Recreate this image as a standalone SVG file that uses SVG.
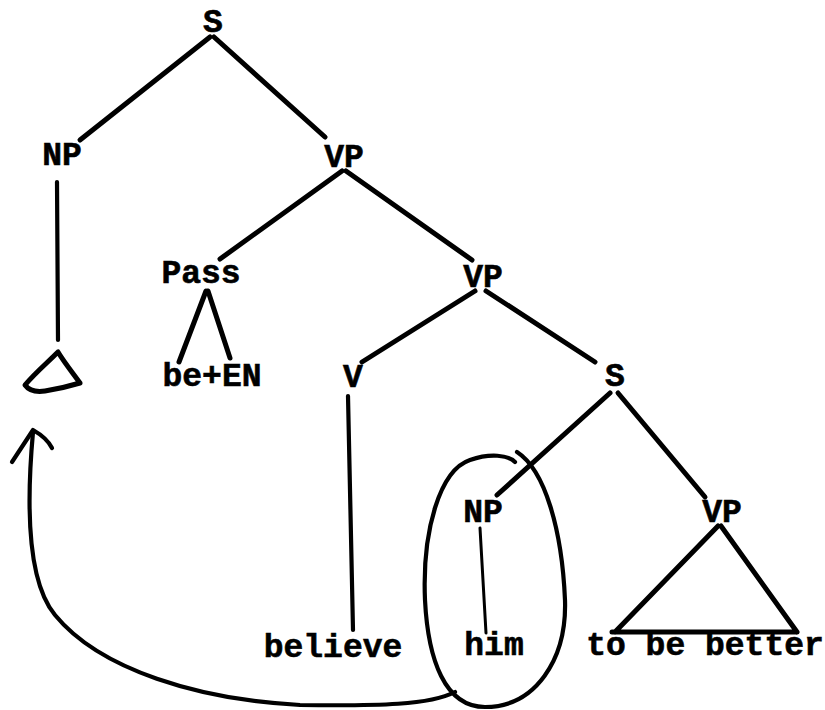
<svg xmlns="http://www.w3.org/2000/svg" width="825" height="710" viewBox="0 0 825 710">
<style>
  text { font-family: "Liberation Mono", "DejaVu Sans Mono", monospace; font-weight: bold; font-size: 33px; fill: #000; stroke: #000; stroke-width: 0.6; text-anchor: middle; }
  .e { fill: none; stroke: #000; stroke-width: 5; stroke-linecap: round; stroke-linejoin: round; }
  .thin { stroke-width: 3; }
  .mid { stroke-width: 4.2; }
</style>
<rect width="825" height="710" fill="#fff"/>
<g id="connectors">
  <path class="e" d="M210,37 L80,140"/>
  <path class="e" d="M214,37 L325,137"/>
  <path class="e mid" d="M57,182 L58,340"/>
  <path class="e" d="M342,171 L220,259"/>
  <path class="e" d="M346,171 L472,260"/>
  <path class="e" d="M206,291 L179,362"/>
  <path class="e" d="M208,291 L230,358"/>
  <path class="e" d="M475,291 L362,362"/>
  <path class="e" d="M486,291 L595,362"/>
  <path class="e mid" d="M348,396 L353,630"/>
  <path class="e" d="M610,393 L497,495"/>
  <path class="e" d="M618,393 L705,497"/>
  <path class="e thin" d="M480,528 L486,633"/>
</g>
<g id="node-S"><text x="213" y="32">S</text></g>
<g id="node-NP"><text x="62" y="165">NP</text></g>
<g id="node-NP-triangle"><path class="e" d="M58,352 C48,362 34,374 25,385 C30,392 38,392 45,391 C58,389 70,386 80,383 C72,372 64,362 58,352 Z"/></g>
<g id="node-VP"><text x="344" y="167">VP</text></g>
<g id="node-Pass"><text x="201" y="283">Pass</text></g>
<g id="node-beEN"><text x="212" y="386">be+EN</text></g>
<g id="node-VP2"><text x="483" y="287">VP</text></g>
<g id="node-V"><text x="353" y="387">V</text></g>
<g id="node-S2"><text x="615" y="386">S</text></g>
<g id="node-NP2"><text x="483" y="522">NP</text></g>
<g id="node-VP3"><text x="722" y="522">VP</text>
  <path class="e" d="M615,632 L718,526 M721,526 L797,632 M612,632 L797,632"/>
</g>
<g id="node-believe"><text x="333" y="657">believe</text></g>
<g id="node-him"><text x="494" y="655">him</text></g>
<g id="node-tobebetter"><text x="705" y="655">to be better</text></g>
<g id="circle">
  <path class="e mid" d="M517,452 C545,470 562,530 565,600 C567,660 535,707 485,707 C445,707 428,660 425,600 C422,530 440,470 470,460 C490,453 508,455 515,462"/>
</g>
<g id="arrow">
  <path class="e mid" d="M455,692 C430,705 380,706 300,705 C200,700 100,670 55,615 C30,585 25,520 33,432"/>
  <path class="e mid" d="M12,462 L33,430 C40,434 48,440 52,448"/>
</g>
</svg>
